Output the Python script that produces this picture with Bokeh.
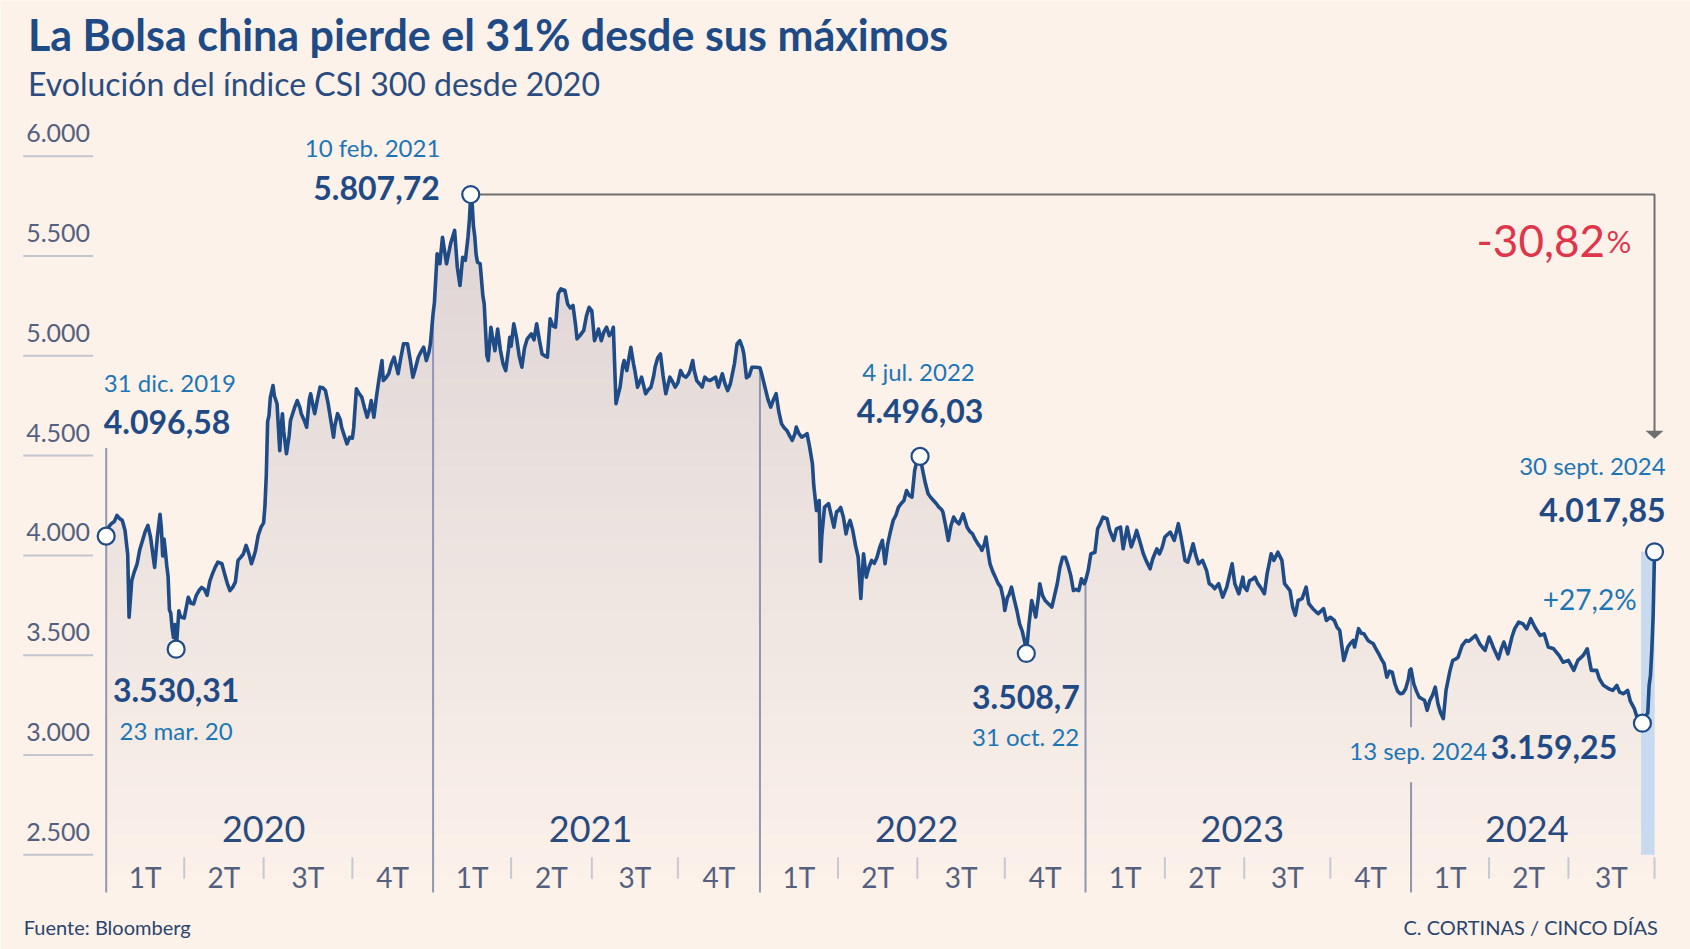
import numpy as np
from bokeh.plotting import figure
from bokeh.models import Range1d
from bokeh.core.properties import value
from bokeh.embed import file_html
from bokeh.resources import INLINE

# ------------------------------------------------------------------ data
years = ["2020", "2021", "2022", "2023", "2024"]
# trading sessions in each quarter (x axis is measured in sessions)
quarter_sessions = [
    [58, 59, 66, 60],
    [58, 60, 64, 61],
    [58, 59, 65, 60],
    [59, 59, 64, 60],
    [58, 59, 64],
]
quarter_labels = ["1T", "2T", "3T", "4T"]
y_ticks = [2500, 3000, 3500, 4000, 4500, 5000, 5500, 6000]

# session number (0 = 31 dic. 2019) and CSI 300 close
sesion = [
    0, 2, 4, 6, 8, 10, 12, 14, 16, 17, 19, 21, 23, 25, 27, 29, 31, 33, 35, 36, 38, 40, 41, 42, 43, 44, 45, 46,
    47, 48, 49, 50, 51, 52, 53, 54, 55, 56, 58, 61, 63, 65, 67, 69, 71, 73, 75, 77, 79, 81, 83, 86, 88, 90,
    92, 94, 96, 98, 100, 102, 104, 106, 108, 110, 111, 113, 115, 117, 118, 119, 120, 121, 122, 124, 125, 127,
    129, 130, 131, 132, 134, 136, 137, 140, 142, 144, 145, 147, 149, 151, 152, 154, 155, 157, 159, 161, 163,
    165, 167, 169, 170, 172, 174, 175, 177, 179, 181, 183, 184, 186, 188, 190, 192, 194, 196, 197, 199, 201,
    203, 205, 206, 208, 210, 212, 214, 217, 219, 221, 224, 226, 228, 230, 232, 234, 236, 238, 240, 241, 243,
    244, 246, 248, 250, 253, 256, 259, 261, 263, 265, 267, 269, 270, 271, 272, 273, 274, 275, 276, 278, 280,
    281, 283, 284, 286, 287, 289, 291, 293, 295, 297, 299, 300, 301, 303, 305, 307, 309, 311, 313, 316, 318,
    320, 322, 324, 326, 328, 330, 332, 334, 336, 338, 341, 343, 345, 347, 349, 350, 352, 355, 357, 359, 361,
    363, 366, 368, 370, 372, 374, 376, 377, 379, 380, 382, 384, 385, 387, 390, 392, 393, 395, 398, 401, 403,
    405, 407, 408, 410, 412, 414, 416, 419, 421, 423, 425, 427, 429, 431, 433, 434, 436, 437, 439, 441, 443,
    445, 447, 449, 451, 453, 455, 458, 460, 462, 464, 465, 467, 469, 471, 473, 474, 476, 478, 480, 483, 486,
    487, 490, 492, 494, 496, 498, 500, 502, 504, 506, 508, 510, 512, 513, 515, 517, 519, 521, 523, 525, 526,
    528, 530, 531, 532, 534, 537, 539, 541, 543, 544, 546, 548, 550, 551, 553, 555, 557, 559, 561, 562, 563,
    565, 567, 569, 571, 573, 575, 577, 579, 581, 583, 585, 587, 589, 591, 593, 595, 597, 599, 601, 603, 605,
    607, 609, 611, 613, 615, 617, 619, 621, 622, 624, 626, 628, 630, 632, 634, 637, 640, 642, 644, 646, 648,
    650, 651, 653, 654, 656, 657, 659, 661, 663, 665, 667, 668, 670, 671, 673, 675, 677, 679, 681, 683, 684,
    686, 688, 690, 691, 693, 694, 696, 698, 700, 703, 705, 707, 709, 711, 713, 715, 717, 719, 721, 723, 725,
    727, 728, 730, 732, 735, 737, 739, 741, 744, 746, 749, 751, 754, 756, 759, 762, 764, 766, 768, 771, 773,
    776, 778, 781, 783, 785, 787, 791, 794, 797, 799, 802, 804, 806, 808, 810, 812, 815, 818, 820, 822, 824,
    827, 830, 833, 835, 837, 839, 842, 845, 846, 848, 850, 852, 854, 856, 858, 861, 863, 866, 868, 871, 874,
    876, 880, 882, 884, 886, 889, 892, 894, 897, 899, 901, 905, 907, 910, 913, 915, 917, 920, 923, 925, 927,
    928, 931, 933, 935, 938, 940, 942, 944, 946, 948, 950, 952, 954, 956, 958, 960, 962, 964, 966, 968, 969,
    970, 972, 974, 976, 978, 980, 982, 984, 986, 988, 990, 992, 994, 996, 999, 1001, 1003, 1005, 1008, 1011,
    1013, 1015, 1018, 1021, 1023, 1025, 1028, 1030, 1031, 1035, 1037, 1039, 1042, 1045, 1047, 1050, 1053,
    1056, 1059, 1062, 1066, 1069, 1072, 1076, 1080, 1083, 1087, 1091, 1094, 1098, 1101, 1104, 1108, 1110,
    1113, 1117, 1120, 1123, 1125, 1128, 1131, 1133, 1136, 1138, 1140, 1142, 1143, 1144, 1145, 1146, 1147,
    1148, 1149, 1150, 1151,
]
cierre = [
    4096.58, 4144, 4160, 4170, 4200, 4185, 4175, 4125, 4004, 3690, 3874, 3920, 3958, 4030, 4075, 4120, 4150,
    4090, 3990, 3940, 4090, 4206, 4138, 3997, 4082, 4020, 3950, 3895, 3727, 3710, 3636, 3589, 3653, 3530.31,
    3622, 3722, 3698, 3690, 3686, 3790, 3760, 3757, 3800, 3824, 3840, 3830, 3800, 3870, 3908, 3940, 3966,
    3958, 3908, 3860, 3824, 3840, 3866, 3975, 3990, 4008, 4050, 4010, 3958, 4000, 4025, 4100, 4140, 4163,
    4247, 4400, 4670, 4700, 4790, 4851, 4800, 4760, 4525, 4640, 4710, 4620, 4509, 4600, 4676, 4740, 4776,
    4740, 4710, 4680, 4642, 4780, 4810, 4740, 4710, 4780, 4843, 4840, 4826, 4760, 4676, 4592, 4650, 4710,
    4680, 4642, 4600, 4559, 4592, 4587, 4640, 4835, 4810, 4793, 4740, 4692, 4740, 4776, 4692, 4800, 4893,
    4976, 4876, 4890, 4910, 4960, 4993, 4910, 4990, 5060, 5060, 4980, 4893, 4940, 4993, 5020, 5043, 4976,
    5020, 5060, 5211, 5267, 5511, 5461, 5594, 5461, 5561, 5628, 5444, 5352, 5494, 5478, 5598, 5681, 5807.72,
    5768, 5650, 5597, 5507, 5469, 5461, 5300, 5260, 5000, 4976, 5143, 5100, 5026, 5134, 5030, 4960, 4926,
    5030, 5093, 5048, 5160, 5093, 5000, 4943, 5040, 5085, 5110, 5080, 5160, 5080, 5009, 5000, 4993, 5185,
    5150, 5143, 5310, 5335, 5327, 5260, 5240, 5252, 5150, 5085, 5100, 5127, 5200, 5243, 5225, 5076, 5134,
    5076, 5120, 5143, 5101, 5120, 5143, 4760, 4790, 4843, 4950, 4976, 4926, 5043, 4960, 4926, 4843, 4893,
    4810, 4830, 4843, 4900, 4943, 4990, 5009, 4900, 4810, 4893, 4870, 4843, 4866, 4926, 4900, 4893, 4910,
    4926, 4976, 4930, 4876, 4860, 4843, 4893, 4880, 4876, 4885, 4893, 4843, 4910, 4860, 4826, 4860, 4893,
    4960, 5060, 5076, 5040, 5009, 4890, 4900, 4943, 4943, 4940, 4917, 4835, 4780, 4743, 4780, 4810, 4720,
    4660, 4640, 4626, 4600, 4576, 4610, 4643, 4610, 4593, 4600, 4610, 4540, 4459, 4350, 4225, 4275, 3970,
    4100, 4242, 4259, 4200, 4141, 4220, 4222, 4240, 4192, 4108, 4140, 4175, 4125, 4050, 3991, 3784, 3900,
    4008, 3891, 3940, 3975, 3960, 3991, 4040, 4075, 3958, 4058, 4120, 4175, 4200, 4242, 4260, 4275, 4325,
    4300, 4292, 4425, 4485, 4496.03, 4425, 4360, 4309, 4290, 4275, 4260, 4242, 4230, 4217, 4150, 4075, 4150,
    4192, 4170, 4158, 4208, 4141, 4120, 4108, 4080, 4058, 4040, 4025, 4060, 4092, 4000, 3958, 3920, 3891,
    3860, 3841, 3780, 3724, 3790, 3800, 3841, 3780, 3724, 3657, 3620, 3560, 3508.7, 3657, 3774, 3720, 3691,
    3790, 3858, 3800, 3774, 3760, 3741, 3800, 3858, 3941, 3991, 3991, 3950, 3900, 3824, 3830, 3824, 3883,
    3858, 3872, 3924, 4008, 4016, 4133, 4160, 4192, 4184, 4125, 4075, 4133, 4142, 4033, 4142, 4042, 4080,
    4125, 4080, 4008, 3975, 3933, 3983, 4033, 4008, 4040, 4092, 4117, 4075, 4159, 4092, 3975, 3966, 4010,
    4058, 4000, 3958, 3975, 3924, 3858, 3850, 3833, 3858, 3791, 3841, 3900, 3958, 3858, 3808, 3891, 3842,
    3824, 3874, 3880, 3891, 3860, 3841, 3808, 3908, 4008, 3975, 4016, 3975, 3858, 3824, 3741, 3700, 3774,
    3783, 3841, 3758, 3733, 3720, 3708, 3733, 3674, 3690, 3674, 3640, 3624, 3474, 3541, 3560, 3574, 3541,
    3633, 3610, 3607, 3574, 3565, 3557, 3530, 3507, 3480, 3457, 3390, 3420, 3415, 3357, 3320, 3307, 3310,
    3332, 3380, 3424, 3431, 3357, 3320, 3290, 3282, 3274, 3224, 3274, 3300, 3340, 3257, 3210, 3182, 3324,
    3424, 3474, 3480, 3490, 3549, 3574, 3570, 3582, 3599, 3557, 3540, 3524, 3591, 3560, 3541, 3482, 3530,
    3566, 3507, 3591, 3632, 3666, 3658, 3632, 3683, 3641, 3599, 3607, 3541, 3532, 3499, 3465, 3474, 3424,
    3474, 3499, 3532, 3424, 3424, 3382, 3349, 3332, 3324, 3349, 3315, 3307, 3324, 3270, 3232, 3190, 3172,
    3159.25, 3171, 3196, 3201, 3211, 3349, 3400, 3527, 3703, 4017.85,
]

key_sesion = [0, 52, 271, 605, 684, 1142, 1151]
key_fecha = ["31 dic. 2019", "23 mar. 20", "10 feb. 2021", "4 jul. 2022", "31 oct. 22",
             "13 sep. 2024", "30 sept. 2024"]

title = "La Bolsa china pierde el 31% desde sus máximos"
subtitle = "Evolución del índice CSI 300 desde 2020"
source = "Fuente: Bloomberg"
credit = "C. CORTINAS / CINCO DÍAS"

# ------------------------------------------------------------------ style
BG = "#fcf2ea"
NAVY = "#1f4a85"
LINE = "#1f4b87"
BLUE = "#1c76b6"
SLATE = "#55607f"
RED = "#e0364c"
YEARLINE = "#9096b4"
QTICK = "#c6c8d4"
GRID = "#c3c5d1"
GRAY = "#6f6f6f"
BAR = "#c8daf0"
FONT = value("Lato")
BASE_FIX = 0.36                   # baseline correction (fraction of font size)

W, H, PAGE = 1690, 949, 0
SX, SY = 1.3452, 0.1996          # px per session, px per index point
X0_PX, Y0_PX, Y0_VAL = 105.7, 155.7, 6000.0


def X(px):
    return (px - X0_PX) / SX


def Y(py):
    return Y0_VAL - (py - Y0_PX) / SY


def es(v, dec=2):
    s = f"{v:,.{dec}f}".replace(",", "X").replace(".", ",").replace("X", ".")
    if "," in s:
        s = s.rstrip("0").rstrip(",")
    return s


s = np.array(sesion, float)
c = np.array(cierre, float)
year_len = [sum(q) for q in quarter_sessions]
year_start = np.concatenate([[0], np.cumsum(year_len)])
q_ends, q_mid, q_lab = [], [], []
for yi, qs in enumerate(quarter_sessions):
    acc = year_start[yi]
    for qi, n in enumerate(qs):
        q_mid.append(acc + n / 2)
        q_lab.append(quarter_labels[qi])
        acc += n
        q_ends.append(acc)
q_ticks = [q for q in q_ends if q not in set(year_start[:len(years)])]

key_val = np.interp(key_sesion, s, c)

p = figure(width=W, height=H, x_range=Range1d(X(PAGE), X(PAGE + W)),
           y_range=Range1d(Y(PAGE + H), Y(PAGE)), output_backend="svg",
           toolbar_location=None, x_axis_location=None, y_axis_location=None,
           min_border=0, background_fill_color=BG, border_fill_color=BG,
           outline_line_color=None)
p.grid.visible = False


def label(x, y, text, size, color, align="left", bold=False, dx=0.0, dy=0.0):
    p.text(x=x, y=y, text=text, text_font=FONT, text_font_size=value(f"{size}px"),
           text_font_style="bold" if bold else "normal", text_color=color,
           text_align=align, text_baseline="alphabetic",
           x_offset=dx, y_offset=dy - BASE_FIX * size)


# ---- gradient fill under the curve
v_bottom = Y(892)
v_top = 5850.0
N = 48
levels = np.linspace(v_bottom, v_top, N + 1)
bg_rgb = np.array([252, 242, 234])
top_rgb = np.array([221, 211, 212])
for k in reversed(range(N)):
    f = (k + 0.5) / N
    rgb = (bg_rgb + f * (top_rgb - bg_rgb)).round().astype(int)
    col = "#%02x%02x%02x" % tuple(rgb)
    p.varea(x=s, y1=v_bottom, y2=np.minimum(c, levels[k + 1]), fill_color=col)

# ---- rebound bar (13 sep -> 30 sept 2024)
p.quad(left=[key_sesion[5] - 1], right=[key_sesion[6]], bottom=[y_ticks[0]],
       top=[key_val[6]], fill_color=BAR, line_color=None)

# ---- y "axis": short rules + labels on the left
p.segment(x0=X(22.7), x1=X(92.7), y0=y_ticks, y1=y_ticks, line_color=GRID, line_width=2)
label([X(25.7)] * len(y_ticks), y_ticks, [es(v, 0) for v in y_ticks], 25, SLATE, dy=-14)

# ---- year lines
yl_x0, yl_y0, yl_y1 = [], [], []
for i in range(len(years)):
    xs = year_start[i]
    top = float(np.interp(xs, s, c))
    if i == 0:
        top = top + 88 / SY
    if i == len(years) - 1:
        gap_top = key_val[5] - 4 / SY
        gap_bot = key_val[5] - 59 / SY
        yl_x0 += [xs, xs]
        yl_y0 += [top, gap_bot]
        yl_y1 += [gap_top, v_bottom]
    else:
        yl_x0.append(xs)
        yl_y0.append(top)
        yl_y1.append(v_bottom)
p.segment(x0=yl_x0, x1=yl_x0, y0=yl_y0, y1=yl_y1, line_color=YEARLINE, line_width=2)

# ---- quarter ticks and labels
p.segment(x0=q_ticks, x1=q_ticks, y0=Y(856.7), y1=Y(878.3), line_color=QTICK, line_width=2)
label(q_mid, [Y(886.7)] * len(q_mid), q_lab, 28, SLATE, align="center")
y_mid = [(year_start[i] + year_start[i + 1]) / 2 for i in range(len(years))]
label(y_mid, [Y(841.7)] * len(y_mid), years, 36, "#294a7e", align="center", dx=-6)

# ---- connector from peak to last value
tip = key_val[6] + 113 / SY
p.line(x=[key_sesion[2], key_sesion[6], key_sesion[6]],
       y=[key_val[2], key_val[2], tip + 7 / SY], line_color=GRAY, line_width=2)
p.patch(x=[key_sesion[6] - 9 / SX, key_sesion[6] + 9 / SX, key_sesion[6]],
        y=[tip + 8 / SY, tip + 8 / SY, tip], fill_color=GRAY, line_color=None)

# ---- index line and markers
p.line(s, c, line_color=LINE, line_width=3.6, line_join="round")
p.scatter(key_sesion, key_val, size=17, fill_color="white", line_color=LINE, line_width=2.2)

# ---- point annotations: align, date dx, date dy, value dx, value dy
layout = [
    ("left", -2.4, -145, -2.4, -102.3),
    ("center", 0, 89.6, 0, 52),
    ("right", -30.4, -38.1, -31, 5.2),
    ("center", -1.5, -76.6, 0, -34.2),
    ("center", -0.7, 92, -0.4, 55.3),
    ("right", -155.2, 35.6, -25.2, 35),
    ("right", 11.1, -77.3, 11.1, -30.6),
]
for xs, v, fecha, (al, ddx, ddy, vdx, vdy) in zip(key_sesion, key_val, key_fecha, layout):
    label([xs], [v], [fecha], 24, BLUE, align=al, dx=ddx, dy=ddy)
    label([xs], [v], [es(v)], 32, NAVY, align=al, bold=True, dx=vdx, dy=vdy)

drop = (key_val[6] / key_val[2] - 1) * 100
rise = (key_val[6] / key_val[5] - 1) * 100
label([key_sesion[6]], [key_val[2]], [f"{drop:.2f}".replace(".", ",")], 44, RED,
      align="right", dx=-49.6, dy=62.6)
label([key_sesion[6]], [key_val[2]], ["%"], 31, RED, dx=-48, dy=62.6 - 0.36 * 13)
label([key_sesion[6]], [key_val[6]], ["+" + f"{rise:.1f}".replace(".", ",") + "%"], 28, BLUE,
      align="right", dx=-17.9, dy=57)

# ---- titles and footer
label([X(27.5)], [Y(49.5)], [title], 43, "#1e4a86", bold=True)
label([X(27.5)], [Y(95)], [subtitle], 32, "#2a4c80")
label([X(23.3)], [Y(933.3)], [source], 20, "#2b4470")
label([X(1657.3)], [Y(933.3)], [credit], 20, "#2b4470", align="right")

html = file_html(p, INLINE)
html = html.replace("<body>", f'<body style="margin:0;overflow:hidden;background:{BG}">', 1)
open("out.html", "w").write(html)
